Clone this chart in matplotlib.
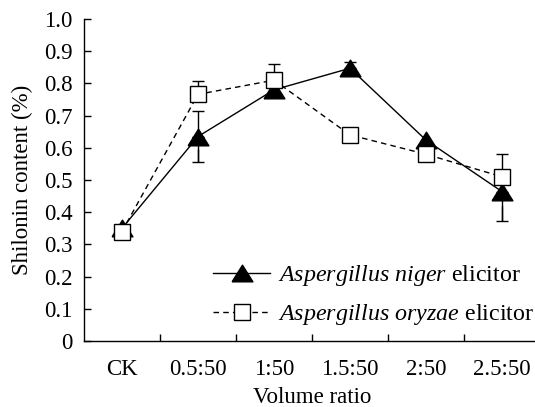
import numpy as np
import matplotlib
matplotlib.use("Agg")
import matplotlib.pyplot as plt

plt.rcParams['font.family'] = ['Liberation Serif', 'DejaVu Serif']
plt.rcParams['mathtext.fontset'] = 'custom'
plt.rcParams['mathtext.rm'] = 'Liberation Serif'
plt.rcParams['mathtext.it'] = 'Liberation Serif:italic'
plt.rcParams['mathtext.bf'] = 'Liberation Serif:bold'

categories = ["CK", "0.5:50", "1:50", "1.5:50", "2:50", "2.5:50"]
niger = [0.35, 0.635, 0.78, 0.847, 0.624, 0.464]
niger_err_lo = [0.0, 0.08, 0.0, 0.0, 0.0, 0.09]
niger_err_up = [0.0, 0.08, 0.0, 0.02, 0.0, 0.0]
oryzae = [0.34, 0.766, 0.81, 0.64, 0.58, 0.51]
oryzae_err_lo = [0.0, 0.0, 0.0, 0.0, 0.0, 0.0]
oryzae_err_up = [0.0, 0.04, 0.05, 0.0, 0.0, 0.07]
yticks = [0, 0.1, 0.2, 0.3, 0.4, 0.5, 0.6, 0.7, 0.8, 0.9, 1.0]
ytick_labels = ["0", "0.1", "0.2", "0.3", "0.4", "0.5", "0.6", "0.7", "0.8", "0.9", "1.0"]

FS = 16.5
fig = plt.figure(figsize=(5.35, 4.07), dpi=100)
ax = fig.add_axes([84/535, 66/407, 456/535, 322/407])

x = np.arange(len(categories))
tri = [(-1, -0.8), (1, -0.8), (0, 0.8), (-1, -0.8)]

def bars(xv, yv, lo, up, z):
    lo = np.asarray(lo); up = np.asarray(up); yv = np.asarray(yv)
    for i in range(len(xv)):
        if lo[i] > 0:
            ax.errorbar([xv[i]], [yv[i] - lo[i] / 2], yerr=[[lo[i] / 2], [0]],
                        fmt='none', ecolor='black', elinewidth=1.0,
                        capsize=0, zorder=z)
            ax.errorbar([xv[i]], [yv[i]], yerr=[[lo[i]], [0]], fmt='none',
                        ecolor='black', elinewidth=1.0, capsize=4,
                        capthick=1.0, zorder=z)
        if up[i] > 0:
            ax.errorbar([xv[i]], [yv[i]], yerr=[[0], [up[i]]], fmt='none',
                        ecolor='black', elinewidth=1.0, capsize=4,
                        capthick=1.0, zorder=z)

bars(x, oryzae, oryzae_err_lo, oryzae_err_up, 1)
bars(x, niger, niger_err_lo, niger_err_up, 1)
ax.plot(x, niger, color='black', lw=1.0, marker=tri, ms=15,
        mfc='black', mec='black', zorder=3,
        label=r'$\it{Aspergillus\ niger}$ elicitor')
ax.plot(x, oryzae, color='black', lw=1.0, ls=(0, (4, 3)), marker='s', ms=12,
        mfc='white', mec='black', mew=1.0, zorder=4,
        label=r'$\it{Aspergillus\ oryzae}$ elicitor')

ax.set_xlim(-0.5, 5.5)
ax.set_ylim(0, 1.0)
ax.set_yticks(yticks)
ax.set_yticklabels(ytick_labels, fontsize=FS)
ax.set_xticks(x)
ax.set_xticklabels(categories, fontsize=FS)
ax.set_xticks(np.arange(0.5, 5.0, 1.0), minor=True)
ax.tick_params(axis='x', which='major', length=0, pad=13)
ax.tick_params(axis='x', which='minor', direction='in', length=5, width=1)
ax.tick_params(axis='y', direction='in', length=5, width=1, pad=8)
for s in ['top', 'right']:
    ax.spines[s].set_visible(False)
for s in ['left', 'bottom']:
    ax.spines[s].set_linewidth(1.0)

ax.set_ylabel('Shilonin content (%)', fontsize=FS, labelpad=8)
ax.set_xlabel('Volume ratio', fontsize=FS, labelpad=5)

leg = ax.legend(loc='lower left', bbox_to_anchor=(0.235, -0.025), frameon=False,
                fontsize=17.3, handlelength=2.4, handletextpad=0.3,
                labelspacing=0.6)

fig.savefig('out.png', dpi=100)
